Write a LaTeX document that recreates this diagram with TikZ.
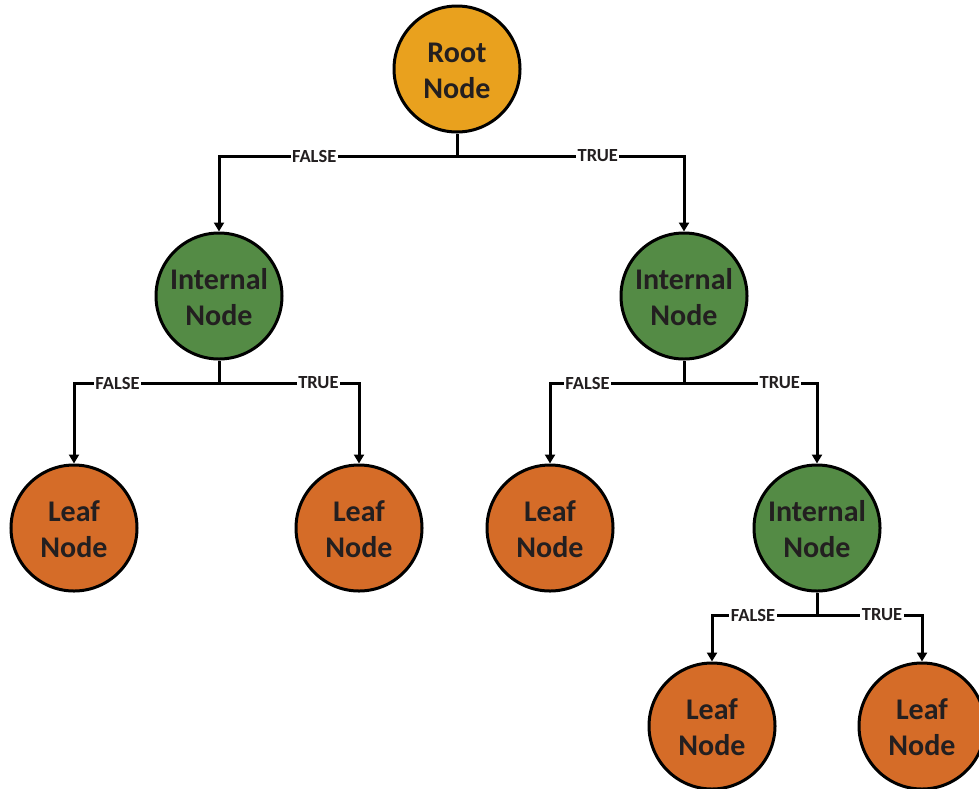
\documentclass[tikz,border=0pt]{standalone}
\usepackage{fontspec}
\setmainfont{Carlito}
\usetikzlibrary{arrows.meta}
\definecolor{rootc}{RGB}{233,161,30}
\definecolor{intc}{RGB}{84,139,69}
\definecolor{leafc}{RGB}{213,108,40}
\definecolor{txt}{RGB}{35,31,32}
\newcommand{\topstrut}{\rule{0pt}{24pt}}
\begin{document}
\begin{tikzpicture}[x=1pt,y=-1pt,
  tnode/.style={circle, draw=black, line width=3pt, minimum size=126pt, inner sep=0pt,
    align=center, text=txt, font=\fontsize{30}{36}\selectfont\bfseries},
  rootnode/.style={tnode, fill=rootc},
  intnode/.style={tnode, fill=intc},
  leafnode/.style={tnode, fill=leafc},
  conn/.style={line width=3pt, -{Triangle[length=9pt,width=10pt]}},
  stem/.style={line width=3pt},
  lbl/.style={fill=white, inner sep=1.5pt, text=txt, font=\fontsize{18.5}{20}\selectfont\bfseries}]
\clip (0,0) rectangle (979,788);

\node[rootnode] (root) at (457,69) {\topstrut Root\\Node};
\node[intnode] (int1) at (219,296) {\topstrut Internal\\Node};
\node[intnode] (int2) at (684,296) {\topstrut Internal\\Node};
\node[leafnode] (leaf1) at (74,528) {\topstrut Leaf\\Node};
\node[leafnode] (leaf2) at (359,528) {\topstrut Leaf\\Node};
\node[leafnode] (leaf3) at (550,528) {\topstrut Leaf\\Node};
\node[intnode] (int3) at (817,528) {\topstrut Internal\\Node};
\node[leafnode] (leaf4) at (712,726) {\topstrut Leaf\\Node};
\node[leafnode] (leaf5) at (922,726) {\topstrut Leaf\\Node};

\coordinate (j0) at (457,156);
\coordinate (j1) at (219,383);
\coordinate (j2) at (684,383);
\coordinate (j3) at (817,615);

\draw[stem] (root) -- (j0);
\draw[conn] (j0) -| node[lbl,pos=0.3]{FALSE} (int1);
\draw[conn] (j0) -| node[lbl,pos=0.31]{TRUE} (int2);

\draw[stem] (int1) -- (j1);
\draw[conn] (j1) -| node[lbl,pos=0.35]{FALSE} (leaf1);
\draw[conn] (j1) -| node[lbl,pos=0.355]{TRUE} (leaf2);

\draw[stem] (int2) -- (j2);
\draw[conn] (j2) -| node[lbl,pos=0.36]{FALSE} (leaf3);
\draw[conn] (j2) -| node[lbl,pos=0.36]{TRUE} (int3);

\draw[stem] (int3) -- (j3);
\draw[conn] (j3) -| node[lbl,pos=0.305]{FALSE} (leaf4);
\draw[conn] (j3) -| node[lbl,pos=0.31]{TRUE} (leaf5);
\end{tikzpicture}
\end{document}
